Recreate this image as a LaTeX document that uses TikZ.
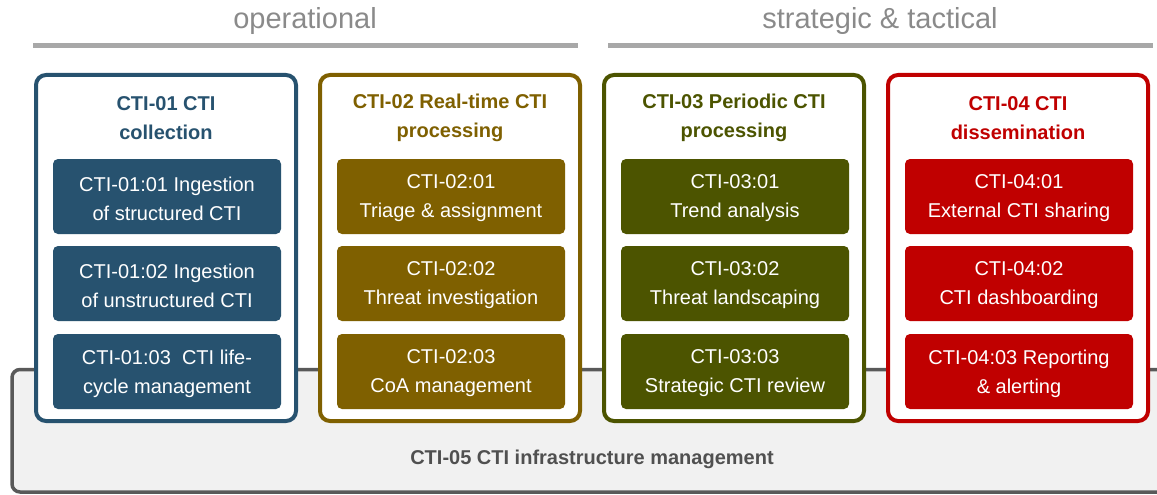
\documentclass[tikz,border=0pt]{standalone}
\usepackage{fontspec}
\setmainfont{Liberation Sans}
\definecolor{ctiblue}{HTML}{27526F}
\definecolor{ctigold}{HTML}{7F6000}
\definecolor{ctiolive}{HTML}{4C5400}
\definecolor{ctired}{HTML}{C00000}
\definecolor{bargray}{HTML}{A8A8A8}
\definecolor{labelgray}{HTML}{8A8A8A}
\definecolor{basefill}{HTML}{F1F1F1}
\definecolor{baseedge}{HTML}{595959}
\definecolor{basetext}{HTML}{505050}

\begin{document}
\begin{tikzpicture}[x=1pt, y=-1pt,
  phase/.style={text=labelgray, font=\fontsize{29}{34}\selectfont, inner sep=0pt},
  phasebar/.style={draw=bargray, line width=5.5pt},
  group/.style={draw=#1, line width=4pt, fill=white, rounded corners=10pt,
    minimum width=260pt, minimum height=346pt, inner sep=0pt},
  grouptitle/.style={text=#1, font=\bfseries\fontsize{20}{29}\selectfont,
    align=center, inner sep=0pt},
  % the text sits 2pt below the middle of its box, so the box is drawn raised
  task/.style={preaction={fill=#1, transform canvas={yshift=2pt}},
    text=white, rounded corners=5pt, minimum width=228pt,
    minimum height=75pt, inner sep=0pt, align=center,
    font=\fontsize{20}{29}\selectfont},
  base/.style={draw=baseedge, fill=basefill, line width=3.5pt, rounded corners=8pt}]

\useasboundingbox (0,0) rectangle (1157,495);

% phase headings and bars
\node[phase] (op) at (305,21) {operational};
\node[phase] (st) at (880,21) {strategic \& tactical};
\coordinate (opL) at (33,45.5);
\coordinate (opR) at (578,45.5);
\coordinate (stL) at (608,45.5);
\coordinate (stR) at (1153,45.5);
\draw[phasebar] (opL) -- (opR);
\draw[phasebar] (stL) -- (stR);

% infrastructure layer underneath the four groups
\draw[base] (12,369.5) rectangle (1180,492);
\node[text=basetext, font=\bfseries\fontsize{20}{24}\selectfont, inner sep=0pt]
  (c05) at (592,459) {CTI-05 CTI infrastructure management};

% CTI-01
\node[group=ctiblue] (g1) at (166,248) {};
\node[grouptitle=ctiblue] (t1) at (166,118) {CTI-01 CTI\\collection};
\node[task=ctiblue] (c11) at (167,198.5) {CTI-01:01 Ingestion\\of structured CTI};
\node[task=ctiblue] (c12) at (167,285.5) {CTI-01:02 Ingestion\\of unstructured CTI};
\node[task=ctiblue] (c13) at (167,373.5) {CTI-01:03\ \ CTI life-\\cycle management};

% CTI-02
\node[group=ctigold] (g2) at (450,248) {};
\node[grouptitle=ctigold] (t2) at (450,118) {CTI-02 Real-time CTI\\processing};
\node[task=ctigold] (c21) at (451,198.5) {CTI-02:01\\Triage \& assignment};
\node[task=ctigold] (c22) at (451,285.5) {CTI-02:02\\Threat investigation};
\node[task=ctigold] (c23) at (451,373.5) {CTI-02:03\\CoA management};

% CTI-03
\node[group=ctiolive] (g3) at (734,248) {};
\node[grouptitle=ctiolive] (t3) at (734,118) {CTI-03 Periodic CTI\\processing};
\node[task=ctiolive] (c31) at (735,198.5) {CTI-03:01\\Trend analysis};
\node[task=ctiolive] (c32) at (735,285.5) {CTI-03:02\\Threat landscaping};
\node[task=ctiolive] (c33) at (735,373.5) {CTI-03:03\\Strategic CTI review};

% CTI-04
\node[group=ctired] (g4) at (1018,248) {};
\node[grouptitle=ctired] (t4) at (1018,118) {CTI-04 CTI\\dissemination};
\node[task=ctired] (c41) at (1019,198.5) {CTI-04:01\\External CTI sharing};
\node[task=ctired] (c42) at (1019,285.5) {CTI-04:02\\CTI dashboarding};
\node[task=ctired] (c43) at (1019,373.5) {CTI-04:03 Reporting\\\& alerting};

\end{tikzpicture}
\end{document}
